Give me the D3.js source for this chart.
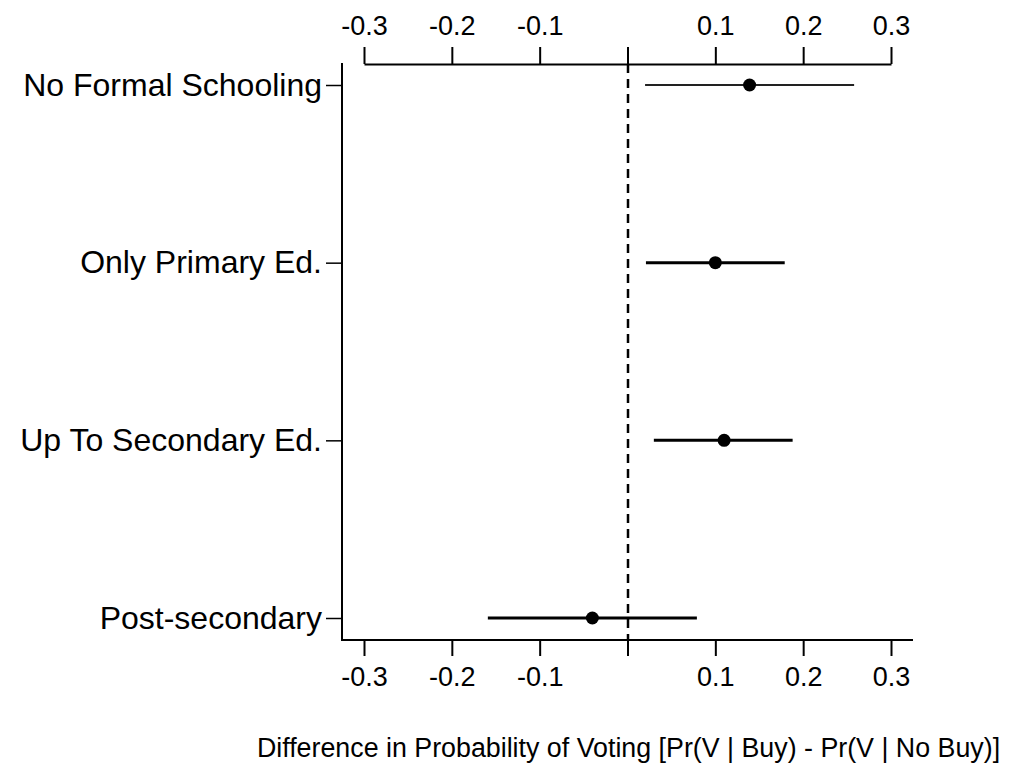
<!DOCTYPE html>
<html>
<head>
<meta charset="utf-8">
<script src="https://cdn.jsdelivr.net/npm/d3@7"></script>
<style>
  body { margin: 0; background: #fff; }
  svg text { font-family: "Liberation Sans", Arial, sans-serif; fill: #000; }
</style>
</head>
<body>
<div id="chart"></div>
<script>
// education groups, top to bottom
let categories = ["No Formal Schooling", "Only Primary Ed.", "Up To Secondary Ed.", "Post-secondary"];
// point estimates and interval bounds
let estimates = [0.139, 0.100, 0.110, -0.040];
let lower = [0.020, 0.021, 0.030, -0.159];
let upper = [0.258, 0.179, 0.188, 0.079];
let tickValues = [-0.3, -0.2, -0.1, 0, 0.1, 0.2, 0.3];
let xTitle = "Difference in Probability of Voting [Pr(V | Buy) - Pr(V | No Buy)]";

let width = 1010;
let height = 772;

let svg = d3.select("#chart")
    .append("svg")
    .attr("width", width)
    .attr("height", height);

let x = d3.scaleLinear()
    .domain([-0.3, 0.3])
    .range([364, 891]);

let y = d3.scalePoint()
    .domain(categories)
    .range([85, 618]);

let plotTop = 64, plotBottom = 640, plotLeft = 342, plotRight = 913;

// R style labels: plain hyphen, no label at zero
let fmt = d => d === 0 ? "" : d3.format(".1f")(d).replace("\u2212", "-");

// top axis
svg.append("g")
    .attr("transform", `translate(0, ${plotTop})`)
    .call(d3.axisTop(x).tickValues(tickValues).tickFormat(fmt).tickSize(17).tickSizeOuter(0).tickPadding(12))
    .call(g => g.selectAll("path, line").attr("stroke", "#000").attr("stroke-width", 2))
    .call(g => g.selectAll("text").attr("font-size", "27px").attr("font-family", null));

// bottom axis
svg.append("g")
    .attr("transform", `translate(0, ${plotBottom})`)
    .call(d3.axisBottom(x).tickValues(tickValues).tickFormat(fmt).tickSize(16).tickSizeOuter(0).tickPadding(11))
    .call(g => g.select(".domain").remove())
    .call(g => g.selectAll("line").attr("stroke", "#000").attr("stroke-width", 2))
    .call(g => g.selectAll("text").attr("font-size", "27px").attr("font-family", null));

// left axis with category labels
svg.append("g")
    .attr("transform", `translate(${plotLeft}, 0)`)
    .call(d3.axisLeft(y).tickSize(16).tickPadding(4))
    .call(g => g.select(".domain").remove())
    .call(g => g.selectAll("line").attr("stroke", "#000").attr("stroke-width", 1.5))
    .call(g => g.selectAll("text").attr("font-size", "32px").attr("font-family", null));

// L-shaped frame
svg.append("path")
    .attr("d", `M${plotLeft},${plotTop - 1}V${plotBottom}H${plotRight}`)
    .attr("fill", "none")
    .attr("stroke", "#000")
    .attr("stroke-width", 2);

// reference line at zero
svg.append("line")
    .attr("x1", Math.round(x(0))).attr("x2", Math.round(x(0)))
    .attr("y1", plotTop).attr("y2", plotBottom)
    .attr("stroke", "#000")
    .attr("stroke-width", 2.5)
    .attr("stroke-dasharray", "9,6");

// intervals
svg.append("g")
    .selectAll("line")
    .data(categories)
    .join("line")
        .attr("x1", (d, i) => x(lower[i]))
        .attr("x2", (d, i) => x(upper[i]))
        .attr("y1", d => y(d))
        .attr("y2", d => y(d))
        .attr("stroke", (d, i) => i === 0 ? "#222" : "#000")
        .attr("stroke-width", (d, i) => i === 0 ? 2.2 : 3);

// points
svg.append("g")
    .selectAll("circle")
    .data(categories)
    .join("circle")
        .attr("cx", (d, i) => x(estimates[i]))
        .attr("cy", d => y(d))
        .attr("r", 6.5)
        .attr("fill", "#000");

// x axis title
svg.append("text")
    .attr("x", x(0) + 1)
    .attr("y", 757)
    .attr("text-anchor", "middle")
    .attr("font-size", "26.8px")
    .text(xTitle);
</script>
</body>
</html>
